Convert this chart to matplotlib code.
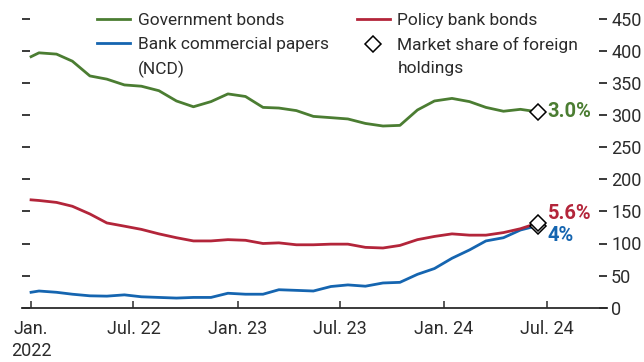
import pandas as pd
import matplotlib
matplotlib.use("Agg")
import matplotlib.pyplot as plt

plt.rcParams['font.family'] = ['Roboto', 'DejaVu Sans']

# monthly observations (first value at start of Jan 2022, then mid-month)
dates = pd.to_datetime(["2022-01-01"] + [d.strftime("%Y-%m-15") for d in
                        pd.date_range("2022-01-01", "2024-06-01", freq="MS")])

govt = [391, 397, 395, 384, 361, 356, 347, 345, 338, 322, 313, 321, 333, 329, 312, 311,
        307, 298, 296, 294, 287, 283, 284, 308, 322, 326, 321, 312, 306, 309, 305]
policy = [168, 167, 164, 158, 146, 132, 127, 122, 115, 109, 104, 104, 106, 105, 100, 101,
          98, 98, 99, 99, 94, 93, 97, 106, 111, 115, 113, 113, 117, 123, 132]
ncd = [24, 26, 24, 21, 18.5, 18, 20, 17, 16, 15, 16, 16, 22.5, 21, 21, 28,
       27, 26, 33, 35.5, 33.5, 38.5, 39.5, 52, 61, 77, 90, 104, 109, 121, 128]

share_labels = {"govt": "3.0%", "policy": "5.6%", "ncd": "4%"}

tick_dates = pd.to_datetime(["2022-01-01", "2022-07-01", "2023-01-01",
                             "2023-07-01", "2024-01-01", "2024-07-01"])
tick_labels = ["Jan.\n2022", "Jul. 22", "Jan. 23", "Jul. 23", "Jan. 24", "Jul. 24"]
y_ticks = list(range(0, 451, 50))

green = "#4b7d32"
red = "#b3253a"
blue = "#1565b0"
dark = "#2b2b2b"
fs = 12.5

fig = plt.figure(figsize=(6.44, 3.62), dpi=100)
ax = fig.add_axes([22 / 644, 1 - 307.7 / 362, 585 / 644, (307.7 - 18.8) / 362])

ax.plot(dates, govt, color=green, lw=2.0, label="Government bonds")
ax.plot(dates, ncd, color=blue, lw=2.0, label="Bank commercial papers")
ax.plot(dates, policy, color=red, lw=2.0, label="Policy bank bonds")
ax.plot([], [], ls="none", marker="D", ms=8.5, mfc="white", mec="black", mew=1.1,
        label="Market share of foreign")

# diamonds at last observation
for vals, col, key, dy in [(govt, green, "govt", 0), (ncd, blue, "ncd", -7),
                           (policy, red, "policy", 7)]:
    ax.plot(dates[-1], vals[-1], ls="none", marker="D", ms=8.5, mfc="white",
            mec="black", mew=1.1, zorder=5)
    ax.annotate(share_labels[key], xy=(dates[-1], vals[-1]), xytext=(7, dy),
                textcoords="offset points", va="center", ha="left",
                color=col, fontsize=14.5, fontweight="bold")

ax.set_xlim(pd.Timestamp("2021-12-16"), pd.Timestamp("2024-10-15"))
ax.set_ylim(0, 450)
ax.set_xticks(tick_dates)
ax.set_xticklabels(tick_labels)
ax.set_yticks(y_ticks)

for s in ["top", "left", "right"]:
    ax.spines[s].set_visible(False)
ax.spines["bottom"].set_color(dark)
ax.spines["bottom"].set_linewidth(1.3)

ax.tick_params(axis="x", direction="in", length=5, width=1.1, color=dark,
               labelsize=13, labelcolor=dark, pad=9)
ax.tick_params(axis="y", direction="in", length=6, width=1.3, color=dark,
               left=True, right=True, labelleft=False, labelright=True,
               labelsize=13, labelcolor=dark, pad=3)
for lbl in ax.get_xticklabels():
    lbl.set_linespacing(1.3)

leg = ax.legend(ncol=2, loc="upper left", bbox_to_anchor=(97 / 644, 1 - 13 / 362),
                bbox_transform=fig.transFigure, frameon=False, fontsize=fs,
                handlelength=1.9, handletextpad=0.45, columnspacing=1.6,
                labelspacing=0.5, borderpad=0, borderaxespad=0)
for t in leg.get_texts():
    t.set_color(dark)

# continuation lines of the two-line legend labels
for txt, extra in [(leg.get_texts()[1], "(NCD)"), (leg.get_texts()[3], "holdings")]:
    ax.annotate(extra, xy=(0, 0), xycoords=txt, xytext=(0, -6),
                textcoords="offset points", va="top", ha="left",
                fontsize=fs, color=dark, zorder=10)

fig.savefig("out.png", dpi=100)
